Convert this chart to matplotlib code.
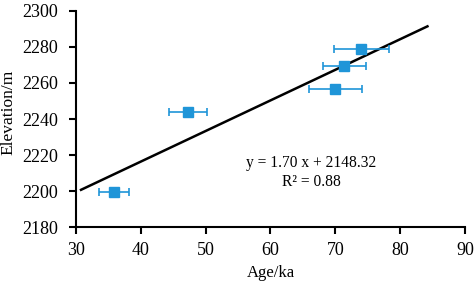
import matplotlib
matplotlib.use("Agg")
import matplotlib.pyplot as plt

# values
age = [35.9, 47.3, 70.0, 71.4, 74.0]
age_err = [2.3, 2.9, 4.1, 3.3, 4.2]
elevation = [2199.5, 2243.8, 2256.6, 2269.6, 2278.6]
slope = 1.70
intercept = 2148.32
fit_range = [30.8, 84.2]
x_ticks = [30, 40, 50, 60, 70, 80, 90]
y_ticks = [2180, 2200, 2220, 2240, 2260, 2280, 2300]

plt.rcParams['font.family'] = ['Liberation Serif', 'DejaVu Serif']
plt.rcParams['font.size'] = 13

fig = plt.figure(figsize=(4.77, 2.81), dpi=100)
ax = fig.add_axes([0.159, 0.192, 0.816, 0.769])

blue = '#1f95d8'
ax.errorbar(age, elevation, xerr=age_err, fmt='s', color=blue, ecolor=blue,
            markersize=7.5, elinewidth=1.2, capsize=3, capthick=1.2, zorder=3)

fit_y = [slope * x + intercept for x in fit_range]
ax.plot(fit_range, fit_y, color='black', linewidth=1.8, zorder=2)

ax.text(66.3, 2215.5, f"y = {slope:.2f} x + {intercept:.2f}", ha='center', va='center', fontsize=11.2)
ax.text(66.3, 2205.0, "R\u00b2 = 0.88", ha='center', va='center', fontsize=11.2)

ax.set_xlim(30, 90)
ax.set_ylim(2180, 2300)
ax.set_xticks(x_ticks)
ax.set_yticks(y_ticks)
ax.set_xlabel("Age/ka", labelpad=4, fontsize=12)
ax.set_ylabel("Elevation/m", fontsize=12.5)
ax.yaxis.set_label_coords(-0.152, 0.532)

for side in ['top', 'right']:
    ax.spines[side].set_visible(False)
for side in ['left', 'bottom']:
    ax.spines[side].set_linewidth(1.5)
ax.tick_params(direction='out', length=5, width=1.5, colors='black')
ax.tick_params(axis='y', pad=8)
ax.tick_params(axis='x', pad=6)

fig.savefig("out.png", dpi=100)
